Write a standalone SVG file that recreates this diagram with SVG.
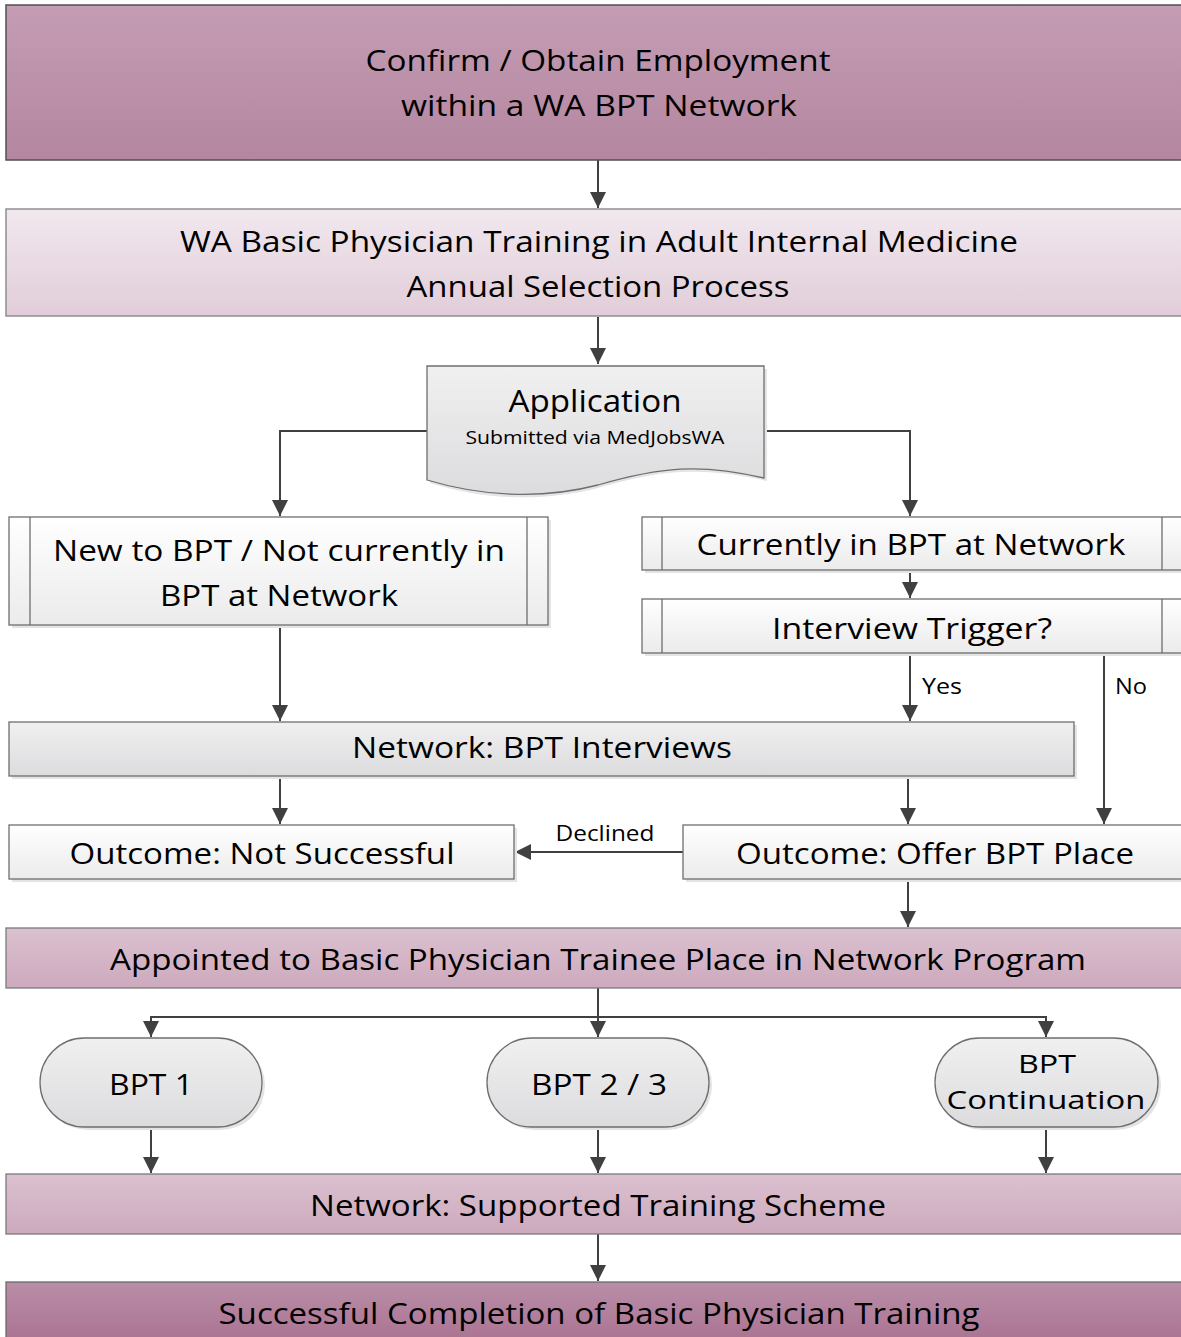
<svg xmlns="http://www.w3.org/2000/svg" width="1181" height="1337" viewBox="0 0 1181 1337">
<style>
text{font-family:"Open Sans","Liberation Sans",sans-serif;fill:#000;text-anchor:middle;dominant-baseline:central}
.t{font-size:29px}
.s{font-size:18px}
.l{font-size:22px}
.c{stroke:#404040;stroke-width:2;fill:none}
.shadow{fill:#e4e4e4}
.g{stroke:#6e6e6e;stroke-width:1.3}
</style>
<defs>
<linearGradient id="gDark" x1="0" y1="0" x2="0" y2="1"><stop offset="0" stop-color="#c49db4"/><stop offset="1" stop-color="#b4869f"/></linearGradient>
<linearGradient id="gLight" x1="0" y1="0" x2="0" y2="1"><stop offset="0" stop-color="#f1e8ee"/><stop offset="1" stop-color="#e1cdd9"/></linearGradient>
<linearGradient id="gMid" x1="0" y1="0" x2="0" y2="1"><stop offset="0" stop-color="#dbc1d0"/><stop offset="1" stop-color="#cda9bd"/></linearGradient>
<linearGradient id="gDeep" x1="0" y1="0" x2="0" y2="1"><stop offset="0" stop-color="#b98ea7"/><stop offset="1" stop-color="#a86e8f"/></linearGradient>
<linearGradient id="gWhite" x1="0" y1="0" x2="0" y2="1"><stop offset="0" stop-color="#ffffff"/><stop offset="1" stop-color="#ebebeb"/></linearGradient>
<linearGradient id="gGray" x1="0" y1="0" x2="0" y2="1"><stop offset="0" stop-color="#f0f0f1"/><stop offset="1" stop-color="#dcdcde"/></linearGradient>
<marker id="ah" viewBox="0 0 10 10" refX="10" refY="5" markerWidth="8" markerHeight="8" markerUnits="strokeWidth" orient="auto"><path d="M0,0 L10,5 L0,10 z" fill="#404040"/></marker>
</defs>

<g id="connectors">
<path class="c" d="M598,160 V208" marker-end="url(#ah)"/>
<path class="c" d="M598,317 V364" marker-end="url(#ah)"/>
<path class="c" d="M427,431 H280 V516" marker-end="url(#ah)"/>
<path class="c" d="M764,431 H910 V516" marker-end="url(#ah)"/>
<path class="c" d="M910,570 V598" marker-end="url(#ah)"/>
<path class="c" d="M910,653 V721" marker-end="url(#ah)"/>
<path class="c" d="M1104,653 V824" marker-end="url(#ah)"/>
<path class="c" d="M280,625 V721" marker-end="url(#ah)"/>
<path class="c" d="M280,776 V824" marker-end="url(#ah)"/>
<path class="c" d="M908,776 V824" marker-end="url(#ah)"/>
<path class="c" d="M683,852 H515" marker-end="url(#ah)"/>
<path class="c" d="M908,879 V927" marker-end="url(#ah)"/>
<path class="c" d="M598,988 V1037" marker-end="url(#ah)"/>
<path class="c" d="M598,1017 H151 V1037" marker-end="url(#ah)"/>
<path class="c" d="M598,1017 H1046 V1037" marker-end="url(#ah)"/>
<path class="c" d="M151,1127 V1173" marker-end="url(#ah)"/>
<path class="c" d="M598,1127 V1173" marker-end="url(#ah)"/>
<path class="c" d="M1046,1127 V1173" marker-end="url(#ah)"/>
<path class="c" d="M598,1234 V1281" marker-end="url(#ah)"/>
<text class="l" x="942" y="685" textLength="40" lengthAdjust="spacingAndGlyphs">Yes</text>
<text class="l" x="1131" y="685" textLength="32" lengthAdjust="spacingAndGlyphs">No</text>
<text class="l" x="605" y="832" textLength="99" lengthAdjust="spacingAndGlyphs">Declined</text>
</g>

<g id="n1">
<rect x="6" y="5" width="1190" height="155" fill="url(#gDark)" stroke="#505050" stroke-width="1.5"/>
<text class="t" x="598" y="59" textLength="465" lengthAdjust="spacingAndGlyphs">Confirm / Obtain Employment</text>
<text class="t" x="599" y="104" textLength="396" lengthAdjust="spacingAndGlyphs">within a WA BPT Network</text>
</g>

<g id="n2">
<rect x="6" y="209" width="1190" height="107" fill="url(#gLight)" stroke="#8e8e8e" stroke-width="1.5"/>
<text class="t" x="599" y="240" textLength="838" lengthAdjust="spacingAndGlyphs">WA Basic Physician Training in Adult Internal Medicine</text>
<text class="t" x="598" y="285" textLength="383" lengthAdjust="spacingAndGlyphs">Annual Selection Process</text>
</g>

<g id="n3">
<path d="M430,369 H767 V481 C700,466 660,470 598,488 C540,503 480,499 430,483 Z" class="shadow"/>
<path d="M427,366 H764 V478 C700,463 660,467 598,485 C540,500 480,496 427,480 Z" fill="url(#gGray)" stroke="#6e6e6e" stroke-width="1.3"/>
<text x="595" y="400" style="font-size:31px" textLength="173" lengthAdjust="spacingAndGlyphs">Application</text>
<text class="s" x="595" y="437" textLength="259" lengthAdjust="spacingAndGlyphs">Submitted via MedJobsWA</text>
</g>

<g id="n4">
<rect x="12" y="520" width="539" height="108" class="shadow"/>
<rect x="9" y="517" width="539" height="108" fill="url(#gWhite)" class="g"/>
<path d="M30,517 V625 M527,517 V625" class="g"/>
<text class="t" x="279" y="549" textLength="452" lengthAdjust="spacingAndGlyphs">New to BPT / Not currently in</text>
<text class="t" x="279" y="594" textLength="238" lengthAdjust="spacingAndGlyphs">BPT at Network</text>
</g>

<g id="n5">
<rect x="645" y="520" width="560" height="53" class="shadow"/>
<rect x="642" y="517" width="560" height="53" fill="url(#gWhite)" class="g"/>
<path d="M662,517 V570 M1162,517 V570" class="g"/>
<text class="t" x="911" y="543" textLength="429" lengthAdjust="spacingAndGlyphs">Currently in BPT at Network</text>
</g>

<g id="n6">
<rect x="645" y="602" width="560" height="54" class="shadow"/>
<rect x="642" y="599" width="560" height="54" fill="url(#gWhite)" class="g"/>
<path d="M662,599 V653 M1162,599 V653" class="g"/>
<text class="t" x="912" y="627" textLength="280" lengthAdjust="spacingAndGlyphs">Interview Trigger?</text>
</g>

<g id="n7">
<rect x="12" y="725" width="1065" height="54" class="shadow"/>
<rect x="9" y="722" width="1065" height="54" fill="url(#gGray)" class="g"/>
<text class="t" x="542" y="746" textLength="380" lengthAdjust="spacingAndGlyphs">Network: BPT Interviews</text>
</g>

<g id="n8">
<rect x="12" y="828" width="505" height="54" class="shadow"/>
<rect x="9" y="825" width="505" height="54" fill="url(#gWhite)" class="g"/>
<text class="t" x="262" y="852" textLength="385" lengthAdjust="spacingAndGlyphs">Outcome: Not Successful</text>
</g>

<g id="n9">
<rect x="686" y="828" width="520" height="54" class="shadow"/>
<rect x="683" y="825" width="520" height="54" fill="url(#gWhite)" class="g"/>
<text class="t" x="935" y="852" textLength="398" lengthAdjust="spacingAndGlyphs">Outcome: Offer BPT Place</text>
</g>

<g id="n10">
<rect x="6" y="928" width="1190" height="60" fill="url(#gMid)" stroke="#7a7a7a" stroke-width="1.3"/>
<text class="t" x="598" y="958" textLength="976" lengthAdjust="spacingAndGlyphs">Appointed to Basic Physician Trainee Place in Network Program</text>
</g>

<g id="n11">
<rect x="43" y="1041" width="222" height="89" rx="44.5" class="shadow"/>
<rect x="40" y="1038" width="222" height="89" rx="44.5" fill="url(#gGray)" class="g"/>
<text class="t" x="151" y="1083" textLength="84" lengthAdjust="spacingAndGlyphs">BPT 1</text>
</g>

<g id="n12">
<rect x="490" y="1041" width="222" height="89" rx="44.5" class="shadow"/>
<rect x="487" y="1038" width="222" height="89" rx="44.5" fill="url(#gGray)" class="g"/>
<text class="t" x="599" y="1083" textLength="136" lengthAdjust="spacingAndGlyphs">BPT 2 / 3</text>
</g>

<g id="n13">
<rect x="938" y="1041" width="223" height="89" rx="44.5" class="shadow"/>
<rect x="935" y="1038" width="223" height="89" rx="44.5" fill="url(#gGray)" class="g"/>
<text x="1047" y="1063" style="font-size:26px" textLength="58" lengthAdjust="spacingAndGlyphs">BPT</text>
<text x="1046" y="1099" style="font-size:26px" textLength="199" lengthAdjust="spacingAndGlyphs">Continuation</text>
</g>

<g id="n14">
<rect x="6" y="1174" width="1190" height="60" fill="url(#gMid)" stroke="#7a7a7a" stroke-width="1.3"/>
<text class="t" x="598" y="1204" textLength="576" lengthAdjust="spacingAndGlyphs">Network: Supported Training Scheme</text>
</g>

<g id="n15">
<rect x="6" y="1282" width="1190" height="70" fill="url(#gDeep)" stroke="#6a6a6a" stroke-width="1.3"/>
<text class="t" x="599" y="1312" textLength="761" lengthAdjust="spacingAndGlyphs">Successful Completion of Basic Physician Training</text>
</g>
</svg>
